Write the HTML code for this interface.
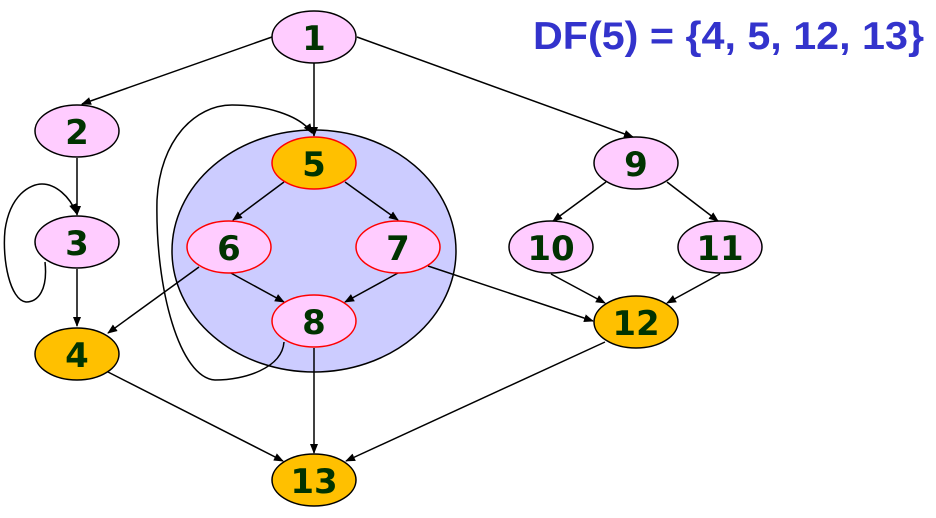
<!DOCTYPE html>
<html><head><style>html,body{margin:0;padding:0;background:#fff;}svg{display:block}</style></head>
<body>
<svg width="936" height="518" viewBox="0 0 936 518" xmlns="http://www.w3.org/2000/svg">
<defs><marker id="a" markerWidth="10" markerHeight="10" refX="9" refY="5" orient="auto" markerUnits="userSpaceOnUse"><path d="M0,1 L10,5 L0,9 z" fill="#000"/></marker></defs>
<ellipse cx="314" cy="251" rx="142" ry="121" fill="#ccccff" stroke="#000" stroke-width="1.5"/>
<g stroke="#000" stroke-width="1.5" fill="none" marker-end="url(#a)">
<line x1="272" y1="37" x2="82" y2="104"/>
<line x1="314" y1="63" x2="314" y2="136"/>
<line x1="357" y1="37" x2="633" y2="137"/>
<line x1="77" y1="158" x2="77" y2="215"/>
<line x1="77" y1="269" x2="77" y2="326"/>
<line x1="284" y1="182" x2="233" y2="220"/>
<line x1="345" y1="182" x2="398" y2="220"/>
<line x1="229" y1="272" x2="284" y2="302"/>
<line x1="398" y1="273" x2="345" y2="302"/>
<line x1="199" y1="267" x2="108" y2="333"/>
<line x1="428" y1="266" x2="593" y2="321"/>
<line x1="314" y1="348" x2="314" y2="453"/>
<line x1="108" y1="372" x2="283" y2="461"/>
<line x1="605" y1="342" x2="346" y2="461"/>
<line x1="606" y1="182" x2="553" y2="221"/>
<line x1="667" y1="182" x2="718" y2="221"/>
<line x1="551" y1="274" x2="605" y2="303"/>
<line x1="720" y1="274" x2="667" y2="303"/>
<path d="M284,342 C282,368 245,380 215,380 C180,378 155,290 157,200 C160,140 195,105 232,105 C265,105 300,115 312,133"/>
<path d="M45,262 C48,290 38,302 26,302 C10,300 2,260 5,230 C10,195 30,184 42,184 C55,184 70,196 76,213"/>
</g>
<g stroke-width="1.5">
<ellipse cx="314" cy="37" rx="42" ry="26" fill="#ffccff" stroke="#000"/>
<ellipse cx="77" cy="131" rx="42" ry="26" fill="#ffccff" stroke="#000"/>
<ellipse cx="77" cy="242" rx="42" ry="26" fill="#ffccff" stroke="#000"/>
<ellipse cx="77" cy="354" rx="42" ry="26" fill="#ffc000" stroke="#000"/>
<ellipse cx="314" cy="163" rx="42" ry="26" fill="#ffc000" stroke="#ff0000"/>
<ellipse cx="229" cy="247" rx="42" ry="26" fill="#ffccff" stroke="#ff0000"/>
<ellipse cx="398" cy="247" rx="42" ry="26" fill="#ffccff" stroke="#ff0000"/>
<ellipse cx="314" cy="321" rx="42" ry="26" fill="#ffccff" stroke="#ff0000"/>
<ellipse cx="314" cy="480" rx="42" ry="26" fill="#ffc000" stroke="#000"/>
<ellipse cx="636" cy="163" rx="42" ry="26" fill="#ffccff" stroke="#000"/>
<ellipse cx="551" cy="247" rx="42" ry="26" fill="#ffccff" stroke="#000"/>
<ellipse cx="720" cy="247" rx="42" ry="26" fill="#ffccff" stroke="#000"/>
<ellipse cx="636" cy="322" rx="42" ry="26" fill="#ffc000" stroke="#000"/>
</g>
<g font-family="'DejaVu Sans','Liberation Sans',sans-serif" font-weight="bold" font-size="34" fill="#003300" text-anchor="middle">
<text x="314" y="50">1</text>
<text x="77" y="144">2</text>
<text x="77" y="255">3</text>
<text x="77" y="367">4</text>
<text x="314" y="176">5</text>
<text x="229" y="260">6</text>
<text x="398" y="260">7</text>
<text x="314" y="334">8</text>
<text x="314" y="493">13</text>
<text x="636" y="176">9</text>
<text x="551" y="260">10</text>
<text x="720" y="260">11</text>
<text x="636" y="335">12</text>
</g>
<text x="533" y="49" font-family="'Liberation Sans',sans-serif" font-weight="bold" font-size="39" fill="#3333cc" textLength="391" lengthAdjust="spacingAndGlyphs">DF(5) = {4, 5, 12, 13}</text>
</svg>
</body></html>
